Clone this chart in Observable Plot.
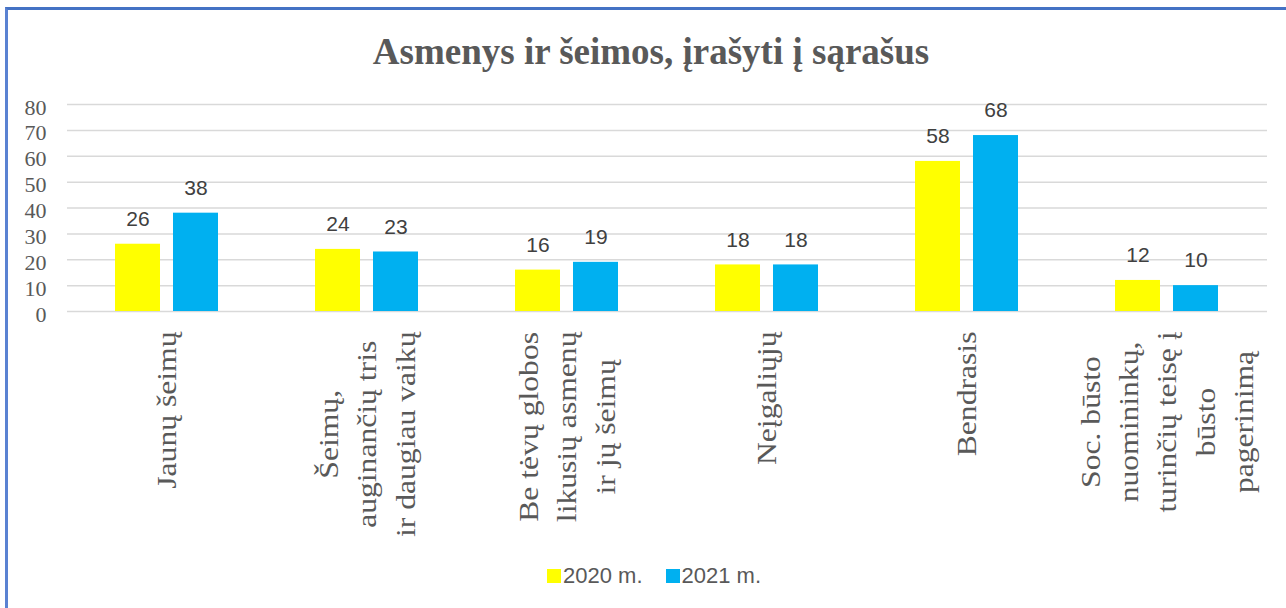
<!DOCTYPE html>
<html>
<head>
<meta charset="utf-8">
<script src="https://cdn.jsdelivr.net/npm/d3@7"></script>
<script src="https://cdn.jsdelivr.net/npm/@observablehq/plot@0.6"></script>
<style>
  html, body { margin: 0; padding: 0; background: #fff; }
  #page { position: relative; width: 1286px; height: 608px; overflow: hidden; background: #fff; }
  #frame { position: absolute; left: 5px; top: 7px; width: 1400px; height: 700px;
           border-left: 3px solid #5a82d2; border-top: 3px solid #4472c4; }
  #title { position: absolute; left: 0; top: 33px; width: 1302px; text-align: center;
           font-family: "Liberation Serif", serif; font-weight: bold; font-size: 37px;
           line-height: 37px; color: #595959; }
  #chart { position: absolute; left: 0; top: 0; }
  #legend { position: absolute; left: 547px; top: 560px; height: 32px; display: flex; align-items: center;
            font-family: "Liberation Sans", sans-serif; font-size: 22px; color: #595959; }
  .sw { width: 14px; height: 14px; margin-right: 2px; }
  .item { display: flex; align-items: center; margin-right: 23px; }
</style>
</head>
<body>
<div id="page">
  <div id="frame"></div>
  <div id="title">Asmenys ir šeimos, įrašyti į sąrašus</div>
  <div id="chart"></div>
  <div id="legend"></div>
</div>
<script>
const categories = [
  "Jaunų šeimų",
  "Šeimų,\nauginančių tris\nir daugiau vaikų",
  "Be tėvų globos\nlikusių asmenų\nir jų šeimų",
  "Neįgaliųjų",
  "Bendrasis",
  "Soc. būsto\nnuomininkų,\nturinčių teisę į\nbūsto\npagerinimą"
];
const years = ["2020 m.", "2021 m."];
const values2020 = [26, 24, 16, 18, 58, 12];
const values2021 = [38, 23, 19, 18, 68, 10];
const colors = ["#ffff00", "#00b0f0"];
const yTicks = [0, 10, 20, 30, 40, 50, 60, 70, 80];

const rows = [];
categories.forEach((c, i) => {
  rows.push({cat: c, year: years[0], value: values2020[i]});
  rows.push({cat: c, year: years[1], value: values2021[i]});
});

const serif = '"Liberation Serif", "Times New Roman", serif';

const chart = Plot.plot({
  width: 1286,
  height: 560,
  marginTop: 104,
  marginBottom: 249,
  marginLeft: 66,
  marginRight: 19,
  style: {background: "transparent", overflow: "visible"},
  fx: {domain: categories, padding: 0, label: null},
  x: {domain: years, paddingInner: 0.224, paddingOuter: 0.834, axis: null, label: null},
  y: {domain: [0, 80], label: null},
  color: {domain: years, range: colors},
  marks: [
    Plot.gridY(yTicks, {stroke: "#d9d9d9", strokeOpacity: 1, strokeWidth: 1.5}),
    Plot.barY(rows, {fx: "cat", x: "year", y: "value", fill: "year"}),
    Plot.text(rows, {fx: "cat", x: "year", y: "value", text: d => String(d.value),
      dy: -25, lineAnchor: "middle", fontSize: 21, fontFamily: "Liberation Sans", fill: "#404040"}),
    Plot.axisY({ticks: yTicks, tickSize: 0, tickPadding: 21, fontSize: 22, label: null,
      fontFamily: serif, color: "#595959", dy: 3}),
    Plot.axisFx({anchor: "bottom", tickRotate: -90, tickSize: 0, tickPadding: 20, label: null,
      fontSize: 28, fontFamily: serif, color: "#595959"})
  ]
});
document.getElementById("chart").appendChild(chart);

chart.querySelectorAll('g[aria-label="y-axis tick label"] text').forEach(t => {
  t.style.setProperty("font-family", serif, "important");
  t.style.setProperty("font-size", "22px", "important");
});

// center the lines of each rotated label within its block (block stays anchored at the axis)
const lineHeight = 1.36;
chart.querySelectorAll('g[aria-label="fx-axis tick label"] text').forEach(t => {
  t.style.setProperty("font-family", serif, "important");
  t.style.setProperty("font-size", "28px", "important");
  const tspans = t.querySelectorAll("tspan");
  t.setAttribute("text-anchor", "middle");
  if (tspans.length) {
    let maxLen = 0;
    tspans.forEach(s => { maxLen = Math.max(maxLen, s.getComputedTextLength()); });
    const n = tspans.length;
    tspans.forEach((s, i) => {
      s.setAttribute("x", -maxLen / 2);
      s.setAttribute("y", `${((i - (n - 1) / 2) * lineHeight + 0.32).toFixed(3)}em`);
      s.removeAttribute("dy");
    });
  } else {
    const len = t.getComputedTextLength();
    t.setAttribute("x", -len / 2);
  }
  const tr = t.getAttribute("transform") || "";
  t.setAttribute("transform", tr + " scale(1.13,1)");
});

const legend = document.getElementById("legend");
years.forEach((y, i) => {
  const item = document.createElement("div");
  item.className = "item";
  const sw = document.createElement("div");
  sw.className = "sw";
  sw.style.background = colors[i];
  const lab = document.createElement("span");
  lab.textContent = y;
  item.appendChild(sw);
  item.appendChild(lab);
  legend.appendChild(item);
});
</script>
</body>
</html>
